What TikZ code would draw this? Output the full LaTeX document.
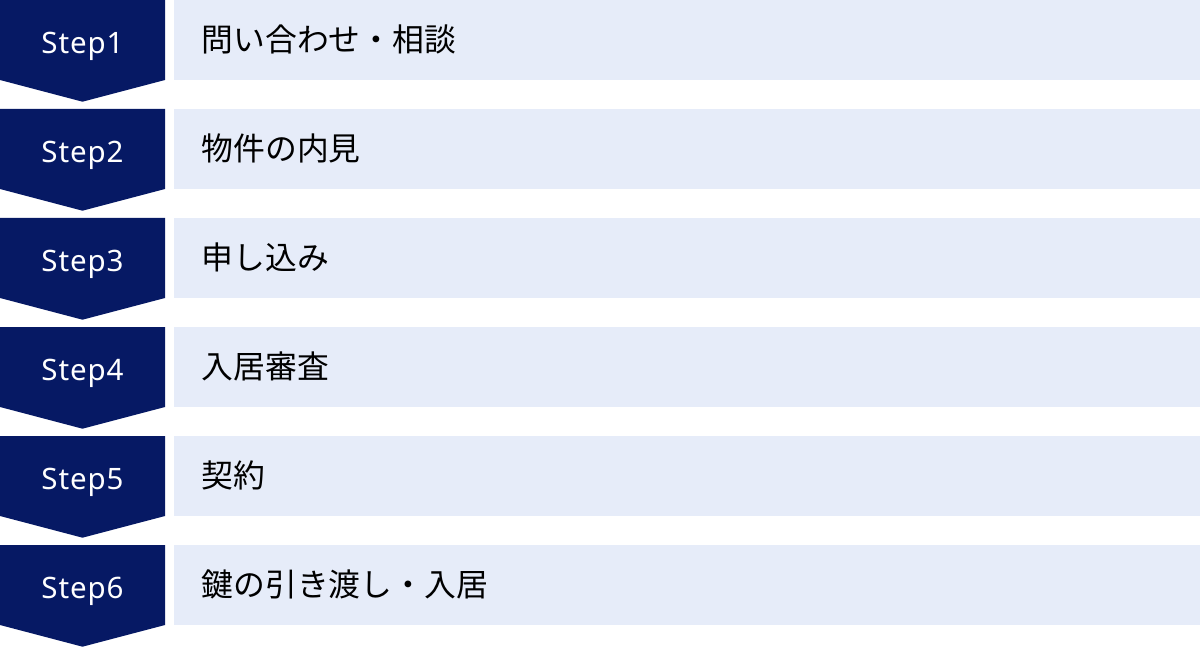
\documentclass[tikz,border=0pt]{standalone}
\usepackage{fontspec}
\setmainfont{Noto Sans}
\newfontfamily\stepfont[LetterSpace=3]{Noto Sans}
\newfontfamily\jpfont{Noto Sans CJK JP}
\definecolor{navy}{RGB}{6,25,100}
\definecolor{paleblue}{RGB}{230,236,249}
\tikzset{
  chevron/.style={fill=navy},
  bar/.style={fill=paleblue},
  steplabel/.style={text=white, font=\stepfont\fontsize{29.5}{30}\selectfont, anchor=base, inner sep=0pt},
  itemlabel/.style={text=black, font=\jpfont\fontsize{31.8}{32}\selectfont, anchor=west, inner sep=0pt},
}
\begin{document}
\begin{tikzpicture}[x=1pt,y=-1pt]
\useasboundingbox (0,0) rectangle (1200,647);
\foreach \i/\t in {1/問い合わせ・相談,2/物件の内見,3/申し込み,4/入居審査,5/契約,6/鍵の引き渡し・入居}{
  \pgfmathsetmacro{\yy}{(\i-1)*109}
  \fill[chevron] (0,\yy) -- (165,\yy) -- (165,\yy+80) -- (82.5,\yy+101.7) -- (0,\yy+80) -- cycle;
  \fill[bar] (174,\yy) rectangle (1200,\yy+80);
  \node[steplabel] (s\i) at (82.5,\yy+53.3) {Step\i};
  \node[itemlabel] (t\i) at (201.5,\yy+39.5) {\t};
}
\end{tikzpicture}
\end{document}
